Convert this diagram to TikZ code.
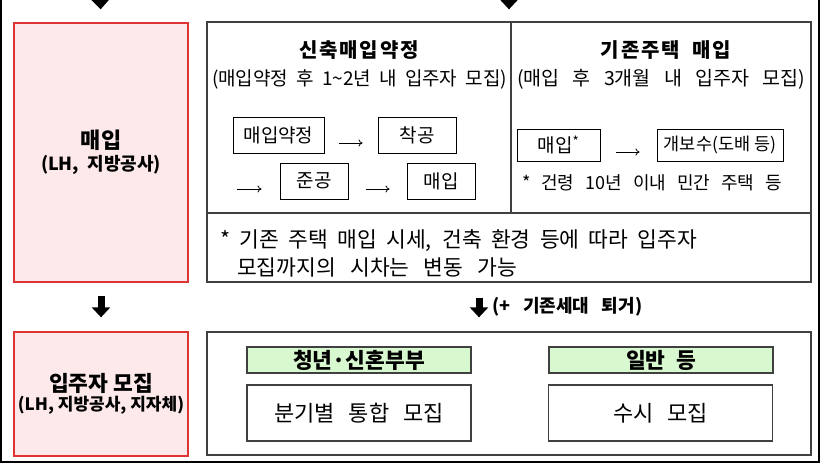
\documentclass[tikz,border=0pt]{standalone}
\usepackage{fontspec}
\setmainfont{Noto Sans CJK KR}
\newfontfamily\kortitle[LetterSpace=9, WordSpace=2]{Noto Sans CJK KR}
\newcommand{\spreadto}[2]{\makebox[#1][s]{#2}}
\usetikzlibrary{arrows.meta, positioning}
\definecolor{boxred}{HTML}{E03434}
\definecolor{boxpink}{HTML}{FDE9E9}
\definecolor{headgreen}{HTML}{D8F9D0}
\definecolor{panelgray}{HTML}{404040}

\begin{document}
\begin{tikzpicture}[x=1pt, y=-1pt,
  redbox/.style={draw=boxred, fill=boxpink, line width=1.3pt, align=center, inner sep=0pt},
  panel/.style={draw=panelgray, line width=1.3pt, inner sep=0pt},
  stepbox/.style={draw, line width=1pt, inner sep=0pt, minimum height=36pt,
                  font=\fontsize{19}{22}\selectfont},
  headbox/.style={draw=panelgray, fill=headgreen, line width=1.1pt, inner sep=0pt,
                  minimum width=224pt, minimum height=26pt,
                  font=\fontsize{21.5}{24}\selectfont\bfseries},
  recbox/.style={draw=panelgray, line width=1.1pt, inner sep=0pt,
                 minimum width=224pt, minimum height=56pt,
                 font=\fontsize{22}{25}\selectfont},
  title/.style={font=\kortitle\fontsize{20}{23}\selectfont\bfseries, inner sep=0pt},
  sub/.style={font=\fontsize{19.5}{22}\selectfont, inner sep=0pt},
  blockarr/.style={line width=7pt, -{Triangle[length=10pt, width=18pt]}},
  thinarr/.style={line width=0.8pt, -{To[length=4pt, width=7pt]}}
]
\useasboundingbox (0,0) rectangle (821,463);
\draw[line width=1.3pt] (1,-2) -- (1,462) -- (819,462) -- (819,-2);

% left column
\node[redbox, minimum width=174pt, minimum height=259pt] (buy) at (101,152.5)
  {{\fontsize{22}{26}\selectfont\bfseries 매입}\\[4pt]
   {\fontsize{18}{21}\selectfont\bfseries \spreadto{120pt}{(LH, 지방공사)}}};
\node[redbox, minimum width=174pt, minimum height=124pt] (rec) at (101,394)
  {{\fontsize{21.5}{25}\selectfont\bfseries 입주자 모집}\\[2pt]
   {\fontsize{17}{20}\selectfont\bfseries (LH, 지방공사, 지자체)}};

% upper panel
\node[panel, minimum width=604pt, minimum height=260pt] (upper) at (509,152) {};
\coordinate (split) at (511,213);
\draw[panelgray, line width=1.3pt] (upper.west |- split) -- (upper.east |- split);
\draw[panelgray, line width=1.3pt] (split |- upper.north) -- (split);

\node[title] (newtitle) at (359,50) {신축매입약정};
\node[sub, font=\fontsize{19}{22}\selectfont] (newsub) at (359.5,79)
  {\spreadto{295pt}{(매입약정 후 1\textasciitilde2년 내 입주자 모집)}};
\node[title] (oldtitle) at (666,50) {기존주택 매입};
\node[sub] (oldsub) at (661,79) {\spreadto{288pt}{(매입 후 3개월 내 입주자 모집)}};

\node[stepbox, minimum width=91pt] (contract) at (278.5,135) {매입약정};
\node[stepbox, minimum width=78pt] (start) at (417,135) {착공};
\node[stepbox, minimum width=68pt] (done) at (314,181) {준공};
\node[stepbox, minimum width=68pt] (buynew) at (441,181) {매입};
\coordinate (wrap) at (237,189);
\draw[thinarr, shorten <=14pt, shorten >=15pt] ([yshift=-8pt]contract.east) -- ([yshift=-8pt]start.west);
\draw[thinarr, shorten >=18pt] (wrap) -- ([yshift=-8pt]done.west);
\draw[thinarr, shorten <=17pt, shorten >=17pt] ([yshift=-8pt]done.east) -- ([yshift=-8pt]buynew.west);

\node[stepbox, minimum width=83pt, minimum height=32pt] (buyold) at (558.5,145) {매입\textsuperscript{*}};
\node[stepbox, minimum width=126pt, minimum height=32pt, font=\fontsize{17.5}{20}\selectfont] (repair) at (720,145)
  {개보수(도배 등)};
\draw[thinarr, shorten <=15pt, shorten >=17pt] ([yshift=-7pt]buyold.east) -- ([yshift=-7pt]repair.west);
\node[sub, font=\fontsize{18}{21}\selectfont] (oldnote) at (652,183) {\spreadto{260pt}{* 건령 10년 이내 민간 주택 등}};

\node[font=\fontsize{21.5}{28}\selectfont, align=left, anchor=west, inner sep=0pt] (lagnote) at (220,253)
  {\spreadto{477pt}{* 기존 주택 매입 시세, 건축 환경 등에 따라 입주자}\\
   \hspace*{17pt}\spreadto{280pt}{모집까지의 시차는 변동 가능}};

% lower panel
\node[panel, minimum width=604pt, minimum height=123pt] (lower) at (509,393.5) {};
\node[headbox] (youth) at (359,360) {청년·신혼부부};
\node[headbox] (general) at (661,360) {\spreadto{70pt}{일반 등}};
\node[recbox] (youthrec) at (359,413) {\spreadto{170pt}{분기별 통합 모집}};
\node[recbox] (generalrec) at (660.5,413) {\spreadto{94pt}{수시 모집}};

% flow arrows
\coordinate (in1) at (100,-12);
\coordinate (in2) at (509,-12);
\coordinate (mx) at (479,0);
\draw[blockarr, shorten >=13pt] (in1) -- (buy.north);
\draw[blockarr, shorten >=12pt] (in2) -- (upper.north);
\draw[blockarr, shorten <=13pt, shorten >=14pt] (buy.south) -- (rec.north);
\draw[blockarr, shorten <=15pt, shorten >=14pt] (mx |- upper.south) -- (mx |- lower.north);
\node[font=\fontsize{18}{21}\selectfont\bfseries, anchor=west, inner sep=0pt] (evict) at (492,307)
  {\spreadto{150pt}{(+ 기존세대 퇴거)}};
\end{tikzpicture}
\end{document}
